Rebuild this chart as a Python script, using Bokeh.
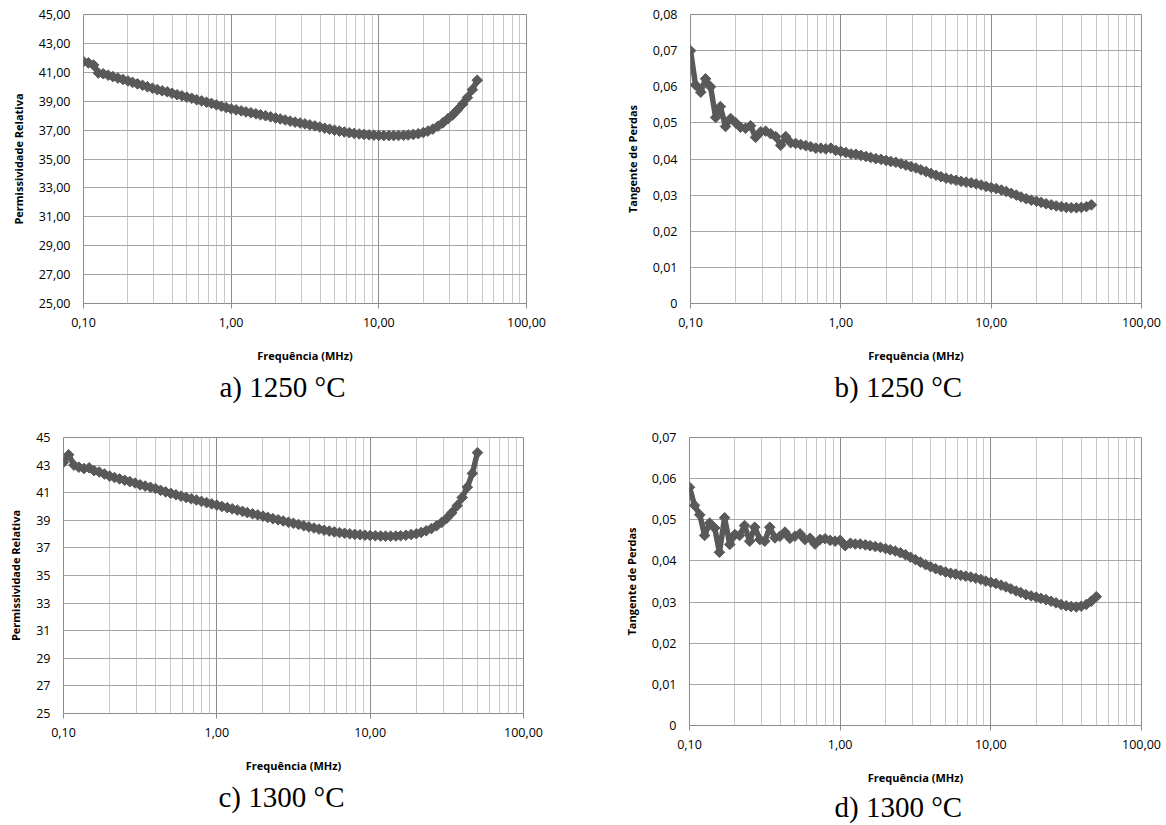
import math
from bokeh.plotting import figure
from bokeh.models import FixedTicker, CustomJSTickFormatter, Title, ColumnDataSource
from bokeh.layouts import column, row
from bokeh.embed import file_html
from bokeh.resources import INLINE

# ---------------- data ----------------
freq_ab = [0.100, 0.108, 0.117, 0.126, 0.136, 0.147, 0.158, 0.171, 0.185, 0.200,
           0.215, 0.232, 0.251, 0.271, 0.293, 0.316, 0.341, 0.369, 0.398, 0.430,
           0.464, 0.501, 0.541, 0.584, 0.631, 0.681, 0.736, 0.794, 0.858, 0.926,
           1.00, 1.08, 1.17, 1.26, 1.36, 1.47, 1.58, 1.71, 1.85, 2.00,
           2.15, 2.32, 2.51, 2.71, 2.93, 3.16, 3.41, 3.69, 3.98, 4.30,
           4.64, 5.01, 5.41, 5.84, 6.31, 6.81, 7.36, 7.94, 8.58, 9.26,
           10.0, 10.8, 11.7, 12.6, 13.6, 14.7, 15.8, 17.1, 18.5, 20.0,
           21.5, 23.2, 25.1, 27.1, 29.3, 31.6, 34.1, 36.9, 39.8, 43.0, 46.4]

freq_cd = [0.100, 0.108, 0.117, 0.126, 0.136, 0.147, 0.158, 0.171, 0.185, 0.200,
           0.215, 0.232, 0.251, 0.271, 0.293, 0.316, 0.341, 0.369, 0.398, 0.430,
           0.464, 0.501, 0.541, 0.584, 0.631, 0.681, 0.736, 0.794, 0.858, 0.926,
           1.00, 1.08, 1.17, 1.26, 1.36, 1.47, 1.58, 1.71, 1.85, 2.00,
           2.15, 2.32, 2.51, 2.71, 2.93, 3.16, 3.41, 3.69, 3.98, 4.30,
           4.64, 5.01, 5.41, 5.84, 6.31, 6.81, 7.36, 7.94, 8.58, 9.26,
           10.0, 10.8, 11.7, 12.6, 13.6, 14.7, 15.8, 17.1, 18.5, 20.0,
           21.5, 23.2, 25.1, 27.1, 29.3, 31.6, 34.1, 36.9, 39.8, 43.0, 46.4, 50.1]

perm_1250 = [41.75, 41.65, 41.5, 40.95, 40.9, 40.8, 40.7, 40.6, 40.5, 40.4,
             40.3, 40.2, 40.1, 40.0, 39.9, 39.8, 39.72, 39.65, 39.55, 39.45,
             39.37, 39.28, 39.2, 39.1, 39.02, 38.93, 38.85, 38.75, 38.65, 38.56,
             38.47, 38.4, 38.33, 38.26, 38.2, 38.13, 38.06, 37.99, 37.92, 37.84,
             37.77, 37.7, 37.62, 37.55, 37.49, 37.43, 37.36, 37.29, 37.21, 37.13,
             37.06, 36.99, 36.93, 36.87, 36.82, 36.77, 36.73, 36.7, 36.67, 36.65,
             36.63, 36.62, 36.62, 36.62, 36.63, 36.64, 36.66, 36.7, 36.75, 36.83,
             36.93, 37.07, 37.27, 37.5, 37.78, 38.05, 38.4, 38.8, 39.25, 39.8, 40.45]

tan_1250 = [0.0700, 0.0605, 0.0585, 0.0622, 0.0600, 0.0515, 0.0545, 0.0490, 0.0512, 0.0500,
            0.0488, 0.0485, 0.0492, 0.0460, 0.0475, 0.0477, 0.0470, 0.0462, 0.0438, 0.0462,
            0.0445, 0.0443, 0.0440, 0.0437, 0.0434, 0.0430, 0.0430, 0.0428, 0.0430, 0.0424,
            0.0421, 0.0418, 0.0414, 0.0413, 0.0410, 0.0407, 0.0404, 0.0401, 0.0399, 0.0396,
            0.0393, 0.0391, 0.0387, 0.0383, 0.0379, 0.0375, 0.0370, 0.0365, 0.0360, 0.0355,
            0.0351, 0.0347, 0.0344, 0.0341, 0.0338, 0.0336, 0.0334, 0.0331, 0.0328, 0.0324,
            0.0321, 0.0318, 0.0314, 0.0310, 0.0305, 0.0300, 0.0295, 0.0290, 0.0286, 0.0283,
            0.0280, 0.0276, 0.0273, 0.0270, 0.0268, 0.0266, 0.0265, 0.0265, 0.0266, 0.0268, 0.0273]

perm_1300 = [43.2, 43.75, 43.0, 42.85, 42.75, 42.8, 42.6, 42.5, 42.35, 42.2,
             42.1, 42.0, 41.9, 41.8, 41.7, 41.57, 41.48, 41.39, 41.3, 41.17,
             41.06, 40.95, 40.85, 40.75, 40.65, 40.56, 40.47, 40.37, 40.28, 40.19,
             40.1, 40.0, 39.92, 39.83, 39.74, 39.65, 39.56, 39.47, 39.39, 39.3,
             39.21, 39.12, 39.04, 38.95, 38.86, 38.78, 38.7, 38.6, 38.52, 38.44,
             38.36, 38.28, 38.22, 38.16, 38.11, 38.06, 38.02, 37.98, 37.95, 37.92,
             37.9, 37.88, 37.86, 37.85, 37.85, 37.86, 37.88, 37.92, 37.97, 38.03,
             38.12, 38.24, 38.4, 38.6, 38.85, 39.15, 39.55, 40.05, 40.65, 41.4, 42.4, 43.9]

tan_1300 = [0.0579, 0.0535, 0.0512, 0.0462, 0.0492, 0.0480, 0.0421, 0.0505, 0.0440, 0.0464,
            0.0462, 0.0486, 0.0448, 0.0482, 0.0452, 0.0448, 0.0482, 0.0456, 0.0460, 0.0470,
            0.0455, 0.0460, 0.0466, 0.0452, 0.0455, 0.0441, 0.0452, 0.0454, 0.0450, 0.0448,
            0.0450, 0.0437, 0.0443, 0.0441, 0.0441, 0.0439, 0.0437, 0.0435, 0.0433, 0.0430,
            0.0427, 0.0424, 0.0420, 0.0415, 0.0409, 0.0403, 0.0397, 0.0391, 0.0386, 0.0381,
            0.0377, 0.0373, 0.0370, 0.0368, 0.0365, 0.0363, 0.0361, 0.0358, 0.0355, 0.0351,
            0.0348, 0.0345, 0.0341, 0.0337, 0.0332, 0.0327, 0.0323, 0.0318, 0.0315, 0.0312,
            0.0309, 0.0306, 0.0302, 0.0298, 0.0294, 0.0291, 0.0289, 0.0288, 0.0290, 0.0294, 0.0302, 0.0313]

x_ticks = [0.1, 1, 10, 100]
x_minor = [m * 10.0 ** e for e in (-1, 0, 1) for m in range(2, 10)]
perm_ticks = [25, 27, 29, 31, 33, 35, 37, 39, 41, 43, 45]
tan_ticks_b = [0, 0.01, 0.02, 0.03, 0.04, 0.05, 0.06, 0.07, 0.08]
tan_ticks_d = [0, 0.01, 0.02, 0.03, 0.04, 0.05, 0.06, 0.07]

x_label = "Frequência (MHz)"
captions = ["a) 1250 °C", "b) 1250 °C", "c) 1300 °C", "d) 1300 °C"]

FMT_2DEC = "return tick.toFixed(2).replace('.', ',');"
FMT_TAN = "return tick == 0 ? '0' : tick.toFixed(2).replace('.', ',');"
FMT_INT = "return tick.toFixed(0);"

MARK = "#595959"


def panel(freq, vals, yr, yticks, yfmt, ylabel, caption, width, height,
          bl, br, bt, bb, cap_offset, cap_standoff):
    p = figure(width=width, height=height, x_axis_type="log",
               x_range=(0.1, 100), y_range=yr, title=None,
               output_backend="svg", toolbar_location=None,
               min_border_left=bl, min_border_right=br,
               min_border_top=bt, min_border_bottom=bb)
    p.outline_line_color = "#8c8c8c"
    p.outline_line_width = 1
    p.background_fill_color = "white"
    p.border_fill_color = "white"

    xa = p.xaxis[0]
    ya = p.yaxis[0]
    xa.ticker = FixedTicker(ticks=x_ticks, minor_ticks=x_minor)
    xa.formatter = CustomJSTickFormatter(code=FMT_2DEC)
    ya.ticker = FixedTicker(ticks=yticks, minor_ticks=[])
    ya.formatter = CustomJSTickFormatter(code=yfmt)
    for ax in (xa, ya):
        ax.axis_line_color = None
        ax.minor_tick_line_color = None
        ax.major_label_text_font = "Open Sans"
        ax.major_label_text_font_size = "12.5px"
        ax.major_label_text_color = "#000000"
        ax.axis_label_text_font = "Open Sans"
        ax.axis_label_text_font_style = "bold"
        ax.axis_label_text_font_size = "11px"
        ax.axis_label_text_color = "#000000"
    xa.major_tick_out = 5
    xa.major_tick_in = 0
    xa.major_tick_line_color = "#8c8c8c"
    xa.major_label_standoff = 9
    xa.axis_label = x_label
    xa.axis_label_standoff = 18
    ya.major_tick_out = 0
    ya.major_tick_in = 0
    ya.major_tick_line_color = None
    ya.major_label_standoff = 13
    ya.axis_label = ylabel
    ya.axis_label_standoff = 10

    p.xgrid.grid_line_color = "#8c8c8c"
    p.xgrid.minor_grid_line_color = "#c8c8c8"
    p.ygrid.grid_line_color = "#a6a6a6"

    src = ColumnDataSource(dict(f=freq, v=vals))
    p.line("f", "v", source=src, line_color=MARK, line_width=5.5,
           line_join="round")
    p.scatter("f", "v", source=src, marker="square", size=7.5, angle=math.pi / 4,
              fill_color=MARK, line_color=MARK)

    cap = Title(text=caption, align="left", offset=cap_offset,
                standoff=cap_standoff, text_font="Liberation Serif",
                text_font_size="29px", text_font_style="normal",
                text_color="#000000")
    p.add_layout(cap, "below")
    return p


pa = panel(freq_ab, perm_1250, (25, 45), perm_ticks, FMT_2DEC,
           "Permissividade Relativa", captions[0],
           600, 415, 83, 74, 14, 112, 136, 6)
pb = panel(freq_ab, tan_1250, (0, 0.08), tan_ticks_b, FMT_TAN,
           "Tangente de Perdas", captions[1],
           561, 415, 90, 20, 14, 112, 144, 6)
pc = panel(freq_cd, perm_1300, (25, 45), perm_ticks, FMT_INT,
           "Permissividade Relativa", captions[2],
           600, 410, 63, 77, 22, 112, 155, 6)
pd = panel(freq_cd, tan_1300, (0, 0.07), tan_ticks_d, FMT_TAN,
           "Tangente de Perdas", captions[3],
           561, 410, 89, 20, 22, 100, 145, 3)

# wrap each plot in its own column so that the frames of panels c and d are
# not forced to the same height
layout = column(row(column(pa), column(pb)), row(column(pc), column(pd)))

with open("out.html", "w", encoding="utf-8") as fh:
    fh.write(file_html(layout, INLINE))
